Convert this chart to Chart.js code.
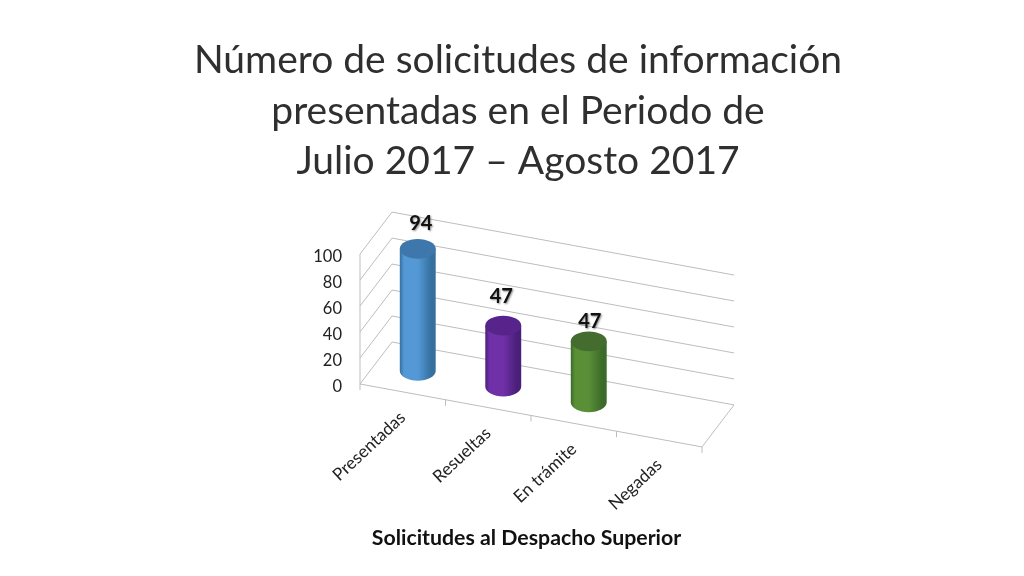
<!DOCTYPE html>
<html>
<head>
<meta charset="utf-8">
<script src="https://cdn.jsdelivr.net/npm/chart.js@4"></script>
<style>
  body { margin: 0; background: #fff; }
  canvas { display: block; }
</style>
</head>
<body>
<canvas id="chart" width="1024" height="576"></canvas>
<script>
const categories = ["Presentadas", "Resueltas", "En trámite", "Negadas"];
const solicitudes = [94, 47, 47, null];
const yTicks = [0, 20, 40, 60, 80, 100];
const titleLines = ["Número de solicitudes de información", "presentadas en el Periodo de", "Julio 2017 – Agosto 2017"];
const axisTitle = "Solicitudes al Despacho Superior";

// colours of the cylinders: edge, middle, lid
const barEdge = ["#35709f", "#4a1f7a", "#3c6a2a"];
const barMid = ["#5499d6", "#7030a8", "#5a8f38"];
const barLid = ["#3d77ab", "#57248c", "#446c2e"];

// fake 3D: the floor falls to the right, bars stand a bit behind the front edge
const floorSlope = 0.184;
const depthX = 32, depthY = -42;
const barShiftX = 15, barShiftY = -21;
const labelShift = [[3, -25], [-2, -29], [1, -20]];
const gridColor = "#bdbdbd";

function drawWalls(chart) {
  const { ctx, chartArea: area, scales } = chart;
  const w = area.right - area.left;
  const drop = w * floorSlope;
  ctx.save();
  ctx.strokeStyle = gridColor;
  ctx.lineWidth = 1;
  ctx.beginPath();
  yTicks.forEach((t) => {
    const y = scales.y.getPixelForValue(t);
    ctx.moveTo(area.left, y);
    ctx.lineTo(area.left + depthX, y + depthY);
    ctx.lineTo(area.left + depthX + w, y + depthY + drop);
  });
  // left edge and floor
  ctx.moveTo(area.left, area.top);
  ctx.lineTo(area.left, area.bottom + 6);
  ctx.moveTo(area.left, area.bottom);
  ctx.lineTo(area.right, area.bottom + drop);
  ctx.lineTo(area.right + depthX, area.bottom + drop + depthY);
  // ticks along the front edge
  for (let i = 1; i <= categories.length; i++) {
    const x = area.left + (w * i) / categories.length;
    const y = area.bottom + (x - area.left) * floorSlope;
    ctx.moveTo(x, y);
    ctx.lineTo(x, y + 6);
  }
  ctx.stroke();
  ctx.restore();
}

function drawCylinders(chart) {
  const { ctx, chartArea: area } = chart;
  chart.getDatasetMeta(0).data.forEach((bar, i) => {
    if (solicitudes[i] === null) return;
    const rx = bar.width / 2;
    const ry = rx * 0.55;
    const cx = bar.x + barShiftX;
    const shift = (bar.x - area.left) * floorSlope + barShiftY;
    const top = bar.y + shift;
    const bottom = bar.base + shift;

    const side = ctx.createLinearGradient(cx - rx, 0, cx + rx, 0);
    side.addColorStop(0, barEdge[i]);
    side.addColorStop(0.12, barMid[i]);
    side.addColorStop(0.5, barMid[i]);
    side.addColorStop(0.88, barEdge[i]);
    side.addColorStop(1, barEdge[i]);

    ctx.save();
    ctx.fillStyle = side;
    ctx.beginPath();
    ctx.moveTo(cx - rx, top);
    ctx.lineTo(cx - rx, bottom);
    ctx.ellipse(cx, bottom, rx, ry, 0, Math.PI, 0, true);
    ctx.lineTo(cx + rx, top);
    ctx.closePath();
    ctx.fill();

    ctx.fillStyle = barLid[i];
    ctx.beginPath();
    ctx.ellipse(cx, top, rx, ry, 0, 0, Math.PI * 2);
    ctx.fill();

    // value label
    ctx.shadowColor = "rgba(0,0,0,0.45)";
    ctx.shadowBlur = 2;
    ctx.shadowOffsetX = 1;
    ctx.shadowOffsetY = 1;
    ctx.fillStyle = "#111";
    ctx.font = "bold 20px Lato";
    ctx.textAlign = "center";
    ctx.textBaseline = "middle";
    ctx.fillText(solicitudes[i], cx + labelShift[i][0], top + labelShift[i][1]);
    ctx.restore();
  });
}

function drawAxisText(chart) {
  const { ctx, chartArea: area, scales } = chart;
  ctx.save();
  ctx.fillStyle = "#222";
  ctx.font = "17.3px Lato";
  ctx.textAlign = "right";
  ctx.textBaseline = "middle";
  categories.forEach((label, i) => {
    const x = scales.x.getPixelForValue(i);
    const y = area.bottom + (x - area.left) * floorSlope;
    ctx.save();
    ctx.translate(x, y + 23);
    ctx.rotate((-43 * Math.PI) / 180);
    ctx.fillText(label, 0, 0);
    ctx.restore();
  });
  ctx.fillStyle = "#111";
  ctx.font = "bold 21.3px Lato";
  ctx.textAlign = "center";
  ctx.fillText(axisTitle, 526.5, 538);
  ctx.restore();
}

const cylinder3d = {
  id: "cylinder3d",
  beforeDatasetsDraw(chart) {
    drawWalls(chart);
  },
  beforeDatasetDraw(chart) {
    drawCylinders(chart);
    return false;
  },
  afterDraw(chart) {
    drawAxisText(chart);
  },
};

new Chart(document.getElementById("chart"), {
  type: "bar",
  data: {
    labels: categories,
    datasets: [{
      data: solicitudes,
      backgroundColor: barMid,
      yAxisID: "y",
      barPercentage: 0.42,
      categoryPercentage: 1,
    }],
  },
  options: {
    responsive: false,
    animation: false,
    layout: { padding: { left: 12, right: 0, top: 0, bottom: 0 } },
    scales: {
      x: {
        grid: { display: false },
        border: { display: false },
        ticks: { display: false },
        afterFit(scale) { scale.height = 192; },
      },
      y: {
        min: 0,
        max: 100,
        afterFit(scale) { scale.width = 348; },
        afterBuildTicks(scale) { scale.ticks = yTicks.map((value) => ({ value })); },
        grid: { display: false, drawTicks: false },
        border: { display: false },
        ticks: { padding: 18, labelOffset: 2.5, color: "#222", font: { family: "Lato", size: 16.5 } },
      },
      // only here to hold the plot away from the right side
      spacer: {
        position: "right",
        grid: { display: false },
        border: { display: false },
        ticks: { display: false },
        afterFit(scale) { scale.width = 322; },
      },
    },
    plugins: {
      legend: { display: false },
      tooltip: { enabled: false },
      title: {
        display: true,
        text: titleLines,
        color: "#2f2f2f",
        font: { family: "Lato", size: 39, weight: 400, lineHeight: 1.3 },
        padding: { top: 35, bottom: 67 },
      },
    },
  },
  plugins: [cylinder3d],
});
</script>
</body>
</html>
